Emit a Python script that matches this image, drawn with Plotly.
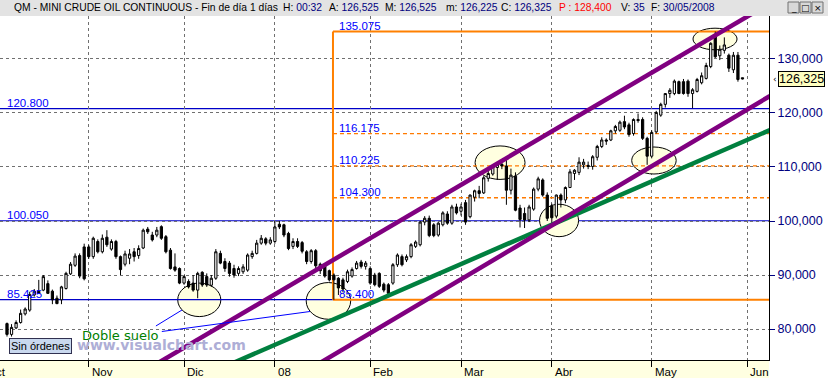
import plotly.graph_objects as go
import pandas as pd

# ---------------- data ----------------
HOLIDAYS = ["2007-11-22", "2007-12-25", "2008-01-01", "2008-01-21",
            "2008-02-18", "2008-03-21", "2008-05-26"]
FIRST_DAY = "2007-10-08"
LAST_DAY = "2008-05-30"

OPEN = [
    # Oct
    81.0, 79.0, 80.2, 81.2, 82.8, 83.5, 86.3, 87.0, 87.2, 88.4, 87.0, 85.7, 85.4, 87.5, 90.2, 91.8, 93.6, 95.2,
    # Nov
    95.2, 93.4, 96.2, 94.3, 97.0, 94.8, 96.2, 93.4, 92.0, 93.1, 94.3, 93.6, 95.0, 98.5, 97.4, 97.4, 98.95, 97.1, 94.6, 91.5, 91.2,
    # Dec
    88.5, 88.8, 88.5, 87.2, 90.5, 89.7, 88.1, 89.4, 94.0, 92.5, 92.2, 91.2, 90.3, 90.6, 90.9, 93.4, 94.0, 95.9, 96.7, 95.9,
    # Jan
    96.2, 99.4, 99.3, 97.7, 95.3, 96.2, 96.0, 94.3, 92.5, 94.5, 92.0, 91.8, 90.8, 90.0, 89.4, 89.1, 88.8, 89.8, 91.2, 92.4, 91.6,
    # Feb
    91.2, 90.0, 90.3, 88.3, 88.2, 88.5, 91.9, 93.4, 92.8, 93.4, 95.3, 95.6, 99.8, 100.5, 99.3, 97.4, 99.3, 101.3, 99.6, 102.6,
    # Mar
    101.8, 103.4, 100.8, 104.4, 105.6, 105.2, 107.9, 108.7, 109.9, 110.5, 110.2, 105.7, 108.3, 102.4, 101.4, 100.2, 102.2, 105.9, 107.6, 104.8,
    # Apr
    102.8, 100.9, 104.8, 103.9, 106.2, 108.8, 109.0, 110.4, 110.3, 110.1, 111.8, 113.8, 115.0, 115.0, 116.7, 116.8, 118.4, 117.8, 116.2, 118.8, 118.8, 115.3,
    # May
    112.0, 116.5, 119.6, 121.6, 123.6, 123.6, 125.8, 125.8, 125.9, 123.6, 124.0, 125.6, 126.4, 128.6, 134.1, 130.6, 131.6, 130.7, 128.0, 130.7, 126.525,
]
HIGH = [
    81.2, 80.9, 81.6, 83.6, 84.0, 86.9, 87.4, 89.1, 90.0, 89.0, 87.3, 86.2, 88.0, 90.6, 92.4, 94.0, 94.0, 95.8,
    95.6, 97.1, 96.6, 97.5, 98.3, 96.6, 96.5, 93.6, 94.5, 94.8, 95.0, 95.5, 98.6, 98.9, 98.0, 98.9, 99.2, 97.4, 95.0, 94.0, 91.4,
    90.0, 89.2, 90.0, 90.6, 90.7, 90.3, 90.0, 94.8, 94.5, 93.1, 92.6, 91.9, 91.6, 92.0, 94.0, 94.5, 96.5, 97.4, 97.0, 97.0,
    100.0, 100.0, 99.5, 98.0, 96.8, 96.8, 96.3, 94.6, 94.8, 94.8, 92.3, 92.0, 91.0, 90.3, 89.6, 89.5, 91.0, 91.4, 92.6, 92.8, 92.6,
    91.6, 90.4, 90.5, 88.6, 88.5, 92.2, 94.0, 93.8, 93.8, 95.9, 96.4, 100.0, 100.9, 101.0, 99.6, 99.8, 101.8, 101.8, 103.0, 103.2,
    103.2, 103.9, 104.9, 105.8, 106.5, 108.3, 109.7, 110.4, 111.0, 111.1, 111.8, 109.7, 109.0, 103.0, 102.5, 103.0, 106.2, 108.2, 107.9, 105.3,
    103.2, 104.9, 105.1, 106.4, 109.6, 109.6, 111.8, 111.5, 111.0, 112.2, 114.1, 115.5, 115.3, 116.9, 117.8, 118.6, 119.5, 118.2, 119.0, 119.9, 119.2, 115.6,
    116.8, 120.4, 121.9, 123.7, 124.6, 126.2, 126.0, 126.3, 126.2, 124.6, 126.5, 127.5, 129.3, 133.1, 135.075, 132.5, 134.0, 131.0, 131.3, 131.3, 126.525,
]
LOW = [
    78.6, 78.6, 80.0, 81.0, 82.5, 83.2, 86.0, 86.5, 87.0, 86.5, 84.6, 84.6, 84.6, 87.3, 90.0, 91.5, 89.4, 89.0,
    93.0, 93.0, 94.0, 94.0, 95.2, 94.5, 93.0, 90.0, 91.6, 92.0, 92.5, 93.0, 94.8, 97.6, 96.2, 97.0, 96.5, 94.0, 91.0, 90.6, 88.3,
    88.2, 87.5, 86.9, 85.7, 87.8, 87.8, 87.8, 89.1, 92.0, 90.6, 89.7, 89.5, 89.8, 90.2, 90.6, 93.0, 93.8, 95.6, 95.5, 95.6,
    95.8, 98.5, 97.0, 94.6, 94.8, 95.0, 94.0, 92.0, 92.1, 91.2, 90.2, 89.5, 88.8, 85.4, 86.3, 86.8, 88.5, 89.5, 91.0, 91.2, 91.0,
    88.2, 87.9, 87.6, 86.8, 86.0, 88.2, 91.5, 91.6, 92.4, 93.1, 95.0, 95.3, 99.2, 97.0, 97.0, 97.1, 99.0, 99.3, 99.3, 101.2,
    101.0, 99.3, 100.5, 103.6, 104.2, 105.0, 107.3, 108.4, 107.6, 109.6, 103.0, 104.9, 101.8, 98.8, 98.7, 99.8, 101.9, 105.5, 104.5, 100.0,
    99.5, 100.5, 102.5, 103.3, 106.1, 107.6, 108.5, 109.7, 109.6, 109.5, 111.2, 113.5, 114.1, 114.8, 116.2, 116.5, 117.0, 115.6, 115.8, 118.2, 115.0, 110.4,
    111.6, 116.2, 119.3, 121.0, 122.8, 123.3, 123.5, 123.4, 123.0, 120.9, 123.8, 125.3, 126.2, 128.3, 130.2, 129.8, 131.0, 127.6, 127.4, 125.8, 126.225,
]
CLOSE = [
    79.0, 80.3, 81.2, 82.9, 83.7, 86.4, 87.0, 86.6, 89.7, 86.6, 85.4, 84.7, 87.8, 90.3, 92.0, 93.5, 89.8, 89.3,
    93.4, 96.8, 94.3, 96.8, 95.6, 96.2, 93.4, 91.0, 93.9, 93.9, 93.4, 94.9, 98.3, 98.0, 96.5, 98.3, 96.8, 94.3, 91.2, 90.9, 88.5,
    89.7, 87.8, 87.2, 90.3, 88.15, 88.15, 89.4, 94.3, 92.2, 91.2, 90.3, 90.0, 91.2, 91.5, 93.7, 94.0, 95.9, 96.8, 95.9, 96.5,
    98.9, 98.9, 97.4, 94.9, 96.2, 95.3, 94.4, 92.5, 94.5, 91.7, 90.8, 89.8, 89.1, 89.1, 87.6, 87.4, 90.6, 91.0, 92.2, 91.6, 92.2,
    88.5, 88.2, 87.9, 87.2, 86.6, 91.9, 93.7, 91.9, 93.4, 95.6, 96.1, 99.8, 100.5, 97.3, 97.3, 99.6, 101.5, 99.6, 102.6, 101.5,
    102.6, 99.8, 104.8, 105.6, 105.1, 108.0, 108.8, 110.2, 110.5, 110.2, 105.7, 108.5, 102.0, 100.3, 100.2, 102.6, 105.9, 107.8, 104.8, 100.5,
    100.6, 104.8, 103.9, 106.2, 109.1, 109.4, 110.9, 110.9, 110.1, 111.9, 113.8, 115.0, 114.8, 116.7, 117.5, 118.3, 117.4, 116.0, 118.8, 118.6, 115.3, 112.0,
    116.4, 120.1, 121.6, 123.6, 124.2, 125.9, 123.6, 123.6, 123.6, 124.3, 126.2, 126.9, 128.8, 132.9, 130.4, 131.8, 132.6, 128.3, 130.7, 126.2, 126.325,
]

MONTH_LABELS = {"2007-10": "Oct", "2007-11": "Nov", "2007-12": "Dic", "2008-01": "08",
                "2008-02": "Feb", "2008-03": "Mar", "2008-04": "Abr", "2008-05": "May",
                "2008-06": "Jun"}
Y_TICKS = [80, 90, 100, 110, 120, 130]
Y_TICKTEXT = ["80,000", "90,000", "100,000", "110,000", "120,000", "130,000"]

# drawn analysis objects (trading-day index, price)
BLUE_LEVELS = [120.800, 100.050]
BLUE_LEVEL_LOW = 85.425
BOX_LEFT = 71.8
BOX_TOP = 135.075
BOX_BOTTOM = 85.400
FIB_LEVELS = [116.175, 110.225, 104.300]
UPPER_CHANNEL = ([30.0, 168.0], [72.1, 140.3])
LOWER_CHANNEL = ([66.0, 168.06], [72.25, 123.15])
GREEN_TREND = ([48.0, 168.06], [73.05, 116.85])
ELLIPSES = [(37.6, 47.1, 82.3, 88.5), (65.9, 75.7, 81.8, 88.6), (103.1, 114.1, 107.7, 113.9),
            (117.3, 125.9, 97.1, 103.1), (137.6, 147.4, 108.7, 113.7), (151.1, 160.8, 131.7, 135.7)]
CONNECTORS = [((32.8, 80.56), (38.55, 83.52)), ((34.1, 79.54), (66.74, 83.24))]
LAST_PRICE = 126.325

# ---------------- build ----------------
cal = [d for d in pd.bdate_range("2007-10-01", "2008-06-02")
       if d.strftime("%Y-%m-%d") not in HOLIDAYS]
pos = {d: k for k, d in enumerate(cal)}
dates = [d for d in cal if FIRST_DAY <= d.strftime("%Y-%m-%d") <= LAST_DAY]
origin = pos[pd.Timestamp(FIRST_DAY)]
X = [pos[d] - origin for d in dates]
assert len(X) == len(OPEN) == len(HIGH) == len(LOW) == len(CLOSE)

month_ticks, month_text = [], []
seen = set()
for k, d in enumerate(cal):
    key = d.strftime("%Y-%m")
    if key not in seen:
        seen.add(key)
        month_ticks.append(k - origin)
        month_text.append(MONTH_LABELS[key])

X_RANGE = [-1.542, 167.84]
Y_RANGE = [74.26, 137.96]
PLOT_W, PLOT_TOP, PLOT_BOTTOM = 769, 16, 360


def px_x(px):
    return px / PLOT_W


def px_y(py):
    return (PLOT_BOTTOM - py) / (PLOT_BOTTOM - PLOT_TOP)


def data_to_paper_x(v):
    return (v - X_RANGE[0]) / (X_RANGE[1] - X_RANGE[0])


fig = go.Figure()
fig.add_trace(go.Candlestick(
    x=X, open=OPEN, high=HIGH, low=LOW, close=CLOSE,
    increasing=dict(line=dict(color="#000000", width=1), fillcolor="#FFFFFF"),
    decreasing=dict(line=dict(color="#000000", width=1), fillcolor="#000000"),
    whiskerwidth=0, hoverinfo="skip", showlegend=False))

for (xs, ys), color in [(GREEN_TREND, "#00803F"), (UPPER_CHANNEL, "#800080"),
                        (LOWER_CHANNEL, "#800080")]:
    fig.add_trace(go.Scatter(x=xs, y=ys, mode="lines", line=dict(color=color, width=4.5),
                             hoverinfo="skip", showlegend=False))

shapes = []
# backgrounds of title bar and time strip
shapes.append(dict(type="rect", xref="paper", yref="paper", x0=0, x1=828 / PLOT_W,
                   y0=1, y1=px_y(0), fillcolor="#E3E3E3", line=dict(width=0), layer="below"))
shapes.append(dict(type="rect", xref="paper", yref="paper", x0=0, x1=1,
                   y0=px_y(378), y1=0, fillcolor="#FFFFE1", line=dict(width=0), layer="below"))
# ellipses
for x0, x1, y0, y1 in ELLIPSES:
    shapes.append(dict(type="circle", xref="x", yref="y", x0=x0, x1=x1, y0=y0, y1=y1,
                       fillcolor="#FFFFE0", line=dict(color="#000000", width=1), layer="between"))
# blue levels
for lv in BLUE_LEVELS:
    shapes.append(dict(type="line", xref="paper", yref="y", x0=0, x1=1, y0=lv, y1=lv,
                       line=dict(color="#0000C8", width=1.2), layer="between"))
shapes.append(dict(type="line", xref="x", yref="y", x0=X_RANGE[0], x1=BOX_LEFT,
                   y0=BLUE_LEVEL_LOW, y1=BLUE_LEVEL_LOW, line=dict(color="#0000C8", width=1.2),
                   layer="between"))
# orange box
shapes.append(dict(type="line", xref="x", yref="y", x0=BOX_LEFT, x1=BOX_LEFT, y0=BOX_BOTTOM,
                   y1=BOX_TOP, line=dict(color="#FF8000", width=2), layer="between"))
for lv in (BOX_TOP, BOX_BOTTOM):
    shapes.append(dict(type="line", xref="x", yref="y", x0=BOX_LEFT, x1=X_RANGE[1], y0=lv, y1=lv,
                       line=dict(color="#FF8000", width=2), layer="between"))
for lv in FIB_LEVELS:
    shapes.append(dict(type="line", xref="x", yref="y", x0=BOX_LEFT, x1=X_RANGE[1], y0=lv, y1=lv,
                       line=dict(color="#FF7A00", width=1.3, dash="4px,3px"), layer="between"))
# connectors from "Doble suelo"
for (ax0, ay0), (ax1, ay1) in CONNECTORS:
    shapes.append(dict(type="line", xref="x", yref="y", x0=ax0, y0=ay0, x1=ax1, y1=ay1,
                       line=dict(color="#0000FF", width=1)))
# window buttons
for bx in (788, 800, 812):
    shapes.append(dict(type="rect", xref="paper", yref="paper", x0=px_x(bx), x1=px_x(bx + 11),
                       y0=px_y(13), y1=px_y(2), fillcolor="#D8D8D8",
                       line=dict(color="#707070", width=1)))

ann = []
LBL_FONT = dict(family="Liberation Sans", size=11.5, color="#0000FF")
for lv in BLUE_LEVELS + [BLUE_LEVEL_LOW]:
    ann.append(dict(xref="paper", yref="y", x=px_x(5), y=lv, text=f"{lv:.3f}", showarrow=False,
                    xanchor="left", yanchor="bottom", yshift=-2, font=LBL_FONT))
for lv in [BOX_TOP] + FIB_LEVELS + [BOX_BOTTOM]:
    ann.append(dict(xref="x", yref="y", x=BOX_LEFT, y=lv, text=f"{lv:.3f}", showarrow=False,
                    xanchor="left", yanchor="bottom", xshift=4, yshift=-2, font=LBL_FONT))

# month labels on time strip
for t, lab in zip(month_ticks, month_text):
    ann.append(dict(xref="paper", yref="paper", x=data_to_paper_x(t), y=px_y(372), text=lab,
                    showarrow=False, xanchor="left", yanchor="middle", xshift=1,
                    font=dict(family="Liberation Sans", size=11.5, color="#000000")))

# title bar
NAVY = "#000080"
TITLE_PARTS = [
    (13, "QM - MINI CRUDE OIL CONTINUOUS - Fin de día 1 días"),
    (282, f"H: <span style='color:{NAVY}'>00:32</span>"),
    (328, f"A: <span style='color:{NAVY}'>126,525</span>"),
    (384, f"M: <span style='color:{NAVY}'>126,525</span>"),
    (445, f"m: <span style='color:{NAVY}'>126,225</span>"),
    (500, f"C: <span style='color:{NAVY}'>126,325</span>"),
    (558, "<span style='color:#FF0000'>P : 128,400</span>"),
    (620, f"V: <span style='color:{NAVY}'>35</span>"),
    (650, f"F: <span style='color:{NAVY}'>30/05/2008</span>"),
]
for xp, txt in TITLE_PARTS:
    ann.append(dict(xref="paper", yref="paper", x=px_x(xp), y=px_y(8), text=txt, showarrow=False,
                    xanchor="left", yanchor="middle", xshift=-1,
                    font=dict(family="Liberation Sans", size=10.3, color="#000000")))
for bx, g in ((788, "_"), (800, "□"), (812, "×")):
    ann.append(dict(xref="paper", yref="paper", x=px_x(bx + 5.5), y=px_y(7.5), text=g, showarrow=False,
                    xanchor="center", yanchor="middle",
                    font=dict(family="DejaVu Sans", size=9, color="#000000")))

# last price box
ann.append(dict(xref="paper", yref="y", x=px_x(778), y=LAST_PRICE, text="126,325", showarrow=False,
                xanchor="left", yanchor="middle", bgcolor="#FFFFC0", bordercolor="#000000",
                borderwidth=1, borderpad=0,
                font=dict(family="Liberation Sans", size=12.5, color="#000000")))
ann.append(dict(xref="paper", yref="y", x=px_x(771), y=LAST_PRICE, text="‹", showarrow=False,
                xanchor="left", yanchor="middle",
                font=dict(family="DejaVu Sans", size=9, color="#000000")))

# bottom-left texts
ann.append(dict(xref="paper", yref="paper", x=px_x(120), y=px_y(335), text="Doble suelo",
                showarrow=False, xanchor="center", yanchor="middle",
                font=dict(family="DejaVu Sans", size=13, color="#008000")))
ann.append(dict(xref="paper", yref="paper", x=px_x(161), y=px_y(345), text="<b>www.visualchart.com</b>",
                showarrow=False, xanchor="center", yanchor="middle",
                font=dict(family="DejaVu Sans", size=14, color="#AEAED6")))
ann.append(dict(xref="paper", yref="paper", x=px_x(40), y=px_y(346), text="Sin órdenes",
                showarrow=False, xanchor="center", yanchor="middle", bgcolor="#C9D8EE",
                bordercolor="#303050", borderwidth=1, borderpad=1,
                font=dict(family="Liberation Sans", size=11, color="#000000")))

fig.update_layout(
    width=828, height=378, margin=dict(l=0, r=59, t=16, b=18),
    paper_bgcolor="#FFFFFF", plot_bgcolor="#FFFFFF", showlegend=False,
    xaxis=dict(range=X_RANGE, rangeslider=dict(visible=False), tickvals=month_ticks,
               showticklabels=False, ticks="outside", ticklen=6, tickcolor="#000000",
               showgrid=True, gridcolor="#707070", griddash="dot", gridwidth=1,
               showline=True, linecolor="#000000", linewidth=1, zeroline=False),
    yaxis=dict(side="right", range=Y_RANGE, tickvals=Y_TICKS, ticktext=Y_TICKTEXT,
               tickfont=dict(family="Liberation Sans", size=12.5, color="#000080"),
               ticks="outside", ticklen=5, tickcolor="#000080",
               showgrid=True, gridcolor="#707070", griddash="dot", gridwidth=1,
               showline=True, linecolor="#000000", linewidth=1, zeroline=False),
    shapes=shapes, annotations=ann,
)

fig.write_html("out.html", config={"displayModeBar": False},
               post_script="document.body.style.margin='0';document.body.style.overflow='hidden';")
